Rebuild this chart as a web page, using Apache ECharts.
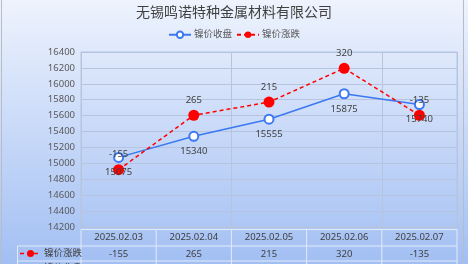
<!DOCTYPE html>
<html><head><meta charset="utf-8">
<script src="https://cdn.jsdelivr.net/npm/echarts@6/dist/echarts.min.js"></script>
<style>html,body{margin:0;padding:0;background:#fff;}#c{width:468px;height:264px;}</style></head>
<body><div id="c"></div>
<script>
const titleText = '无锡鸣诺特种金属材料有限公司';
const categories = ['2025.02.03', '2025.02.04', '2025.02.05', '2025.02.06', '2025.02.07'];
const closeName = '镍价收盘';
const changeName = '镍价涨跌';
const closeValues = [15075, 15340, 15555, 15875, 15740];
const changeValues = [-155, 265, 215, 320, -135];
const yMin = 14200, yMax = 16400, yStep = 200;

const FONT = 'Noto Sans, Noto Sans CJK SC, sans-serif';
const BLUE = '#3b78f2', RED = '#ff0000';
const NUM = 9.5, CJK = 9.5;
const chart = echarts.init(document.getElementById('c'), null, {renderer: 'canvas'});

const base = {
  animation: false,
  backgroundColor: new echarts.graphic.LinearGradient(0, 0, 0, 1, [
    {offset: 0, color: '#eef3fd'}, {offset: 1, color: '#a2bff3'}]),
  textStyle: {fontFamily: FONT},
  title: {text: titleText, left: 'center', top: 1,
    textStyle: {fontSize: 14, fontWeight: 'normal', color: '#404040', fontFamily: FONT}},
  legend: {top: 25, left: 'center', itemWidth: 22, itemHeight: 8, itemGap: 4,
    textStyle: {fontSize: CJK, color: '#595959', padding: [0, 0, 0, -2]},
    data: [closeName, changeName]},
  grid: {left: 81, right: 11, top: 52, bottom: 37, show: false},
  xAxis: {type: 'category', data: categories, boundaryGap: true,
    axisLine: {show: false}, axisTick: {show: false}, axisLabel: {show: false},
    splitLine: {show: true, lineStyle: {color: '#b6c4df', width: 1}}},
  yAxis: {type: 'value', min: yMin, max: yMax, interval: yStep,
    axisLine: {show: true, lineStyle: {color: '#b6c4df'}}, axisTick: {show: false},
    axisLabel: {fontSize: NUM, color: '#595959', margin: 6, formatter: v => String(v)},
    splitLine: {show: true, lineStyle: {color: '#b6c4df', width: 1}}},
  series: [
    {name: closeName, type: 'line', data: closeValues, stack: 'total', stackStrategy: 'all',
      symbol: 'emptyCircle', symbolSize: 9,
      lineStyle: {color: BLUE, width: 1.5}, itemStyle: {color: BLUE, borderWidth: 2, borderColor: BLUE},
      label: {show: true, position: 'bottom', distance: 5, fontSize: NUM, color: '#404040'}},
    {name: changeName, type: 'line', data: changeValues, stack: 'total', stackStrategy: 'all',
      symbol: 'circle', symbolSize: 11,
      lineStyle: {color: RED, width: 1.5, type: [4, 3]}, itemStyle: {color: RED},
      label: {show: true, position: 'top', distance: 5, fontSize: NUM, color: '#404040'}}
  ]
};
chart.setOption(base);

// Data table below the plot, positioned through the category axis
const gLeft = 81, gRight = 468 - 11;
const colW = (gRight - gLeft) / categories.length;
const rowTop = [229.5, 246, 261, 276];
const lineC = '#e3eaf8';
const g = [];
function hline(x1, x2, y) { g.push({type: 'line', shape: {x1, y1: y, x2, y2: y}, style: {stroke: lineC, lineWidth: 1}, silent: true}); }
function vline(x, y1, y2) { g.push({type: 'line', shape: {x1: x, y1, x2: x, y2}, style: {stroke: lineC, lineWidth: 1}, silent: true}); }
function txt(x, y, s, align, size) { g.push({type: 'text', x, y, silent: true, style: {text: s, align: align || 'center', verticalAlign: 'middle', fontSize: size || NUM, fill: '#404040', fontFamily: FONT}}); }

hline(gLeft, gRight, rowTop[0]);
hline(17.5, gRight, rowTop[1]);
hline(17.5, gRight, rowTop[2]);
vline(17.5, rowTop[1], 264);
vline(gLeft, rowTop[0], 264);
for (let i = 0; i < categories.length; i++) vline(gLeft + colW * (i + 1), rowTop[0], 264);

categories.forEach((c, i) => {
  const x = chart.convertToPixel({xAxisIndex: 0}, c);
  txt(x, (rowTop[0] + rowTop[1]) / 2, c);
  txt(x, (rowTop[1] + rowTop[2]) / 2 + 0.5, String(changeValues[i]));
  txt(x, (rowTop[2] + rowTop[3]) / 2, String(closeValues[i]));
});
// row keys
function key(y, color, dashed, filled, name) {
  g.push({type: 'line', shape: {x1: 20, y1: y, x2: 41, y2: y}, style: {stroke: color, lineWidth: 1.5, lineDash: dashed ? [4, 3] : null}, silent: true});
  g.push({type: 'circle', shape: {cx: 30.5, cy: y, r: filled ? 3.5 : 3}, style: {fill: filled ? color : '#fff', stroke: color, lineWidth: filled ? 0 : 1.5}, silent: true});
  txt(44, y, name, 'left', CJK);
}
key((rowTop[1] + rowTop[2]) / 2, RED, true, true, changeName);
key((rowTop[2] + rowTop[3]) / 2, BLUE, false, false, closeName);
// plot frame
g.push({type: 'rect', shape: {x: gLeft, y: 52, width: gRight - gLeft, height: 175}, style: {fill: null, stroke: '#b6c4df', lineWidth: 1}, silent: true, z: -1});
// outer chart border
g.push({type: 'rect', shape: {x: 1.5, y: -2, width: 462, height: 270}, style: {fill: null, stroke: '#b9bcc4', lineWidth: 1}, silent: true});

chart.setOption({graphic: g});
</script>
</body></html>
